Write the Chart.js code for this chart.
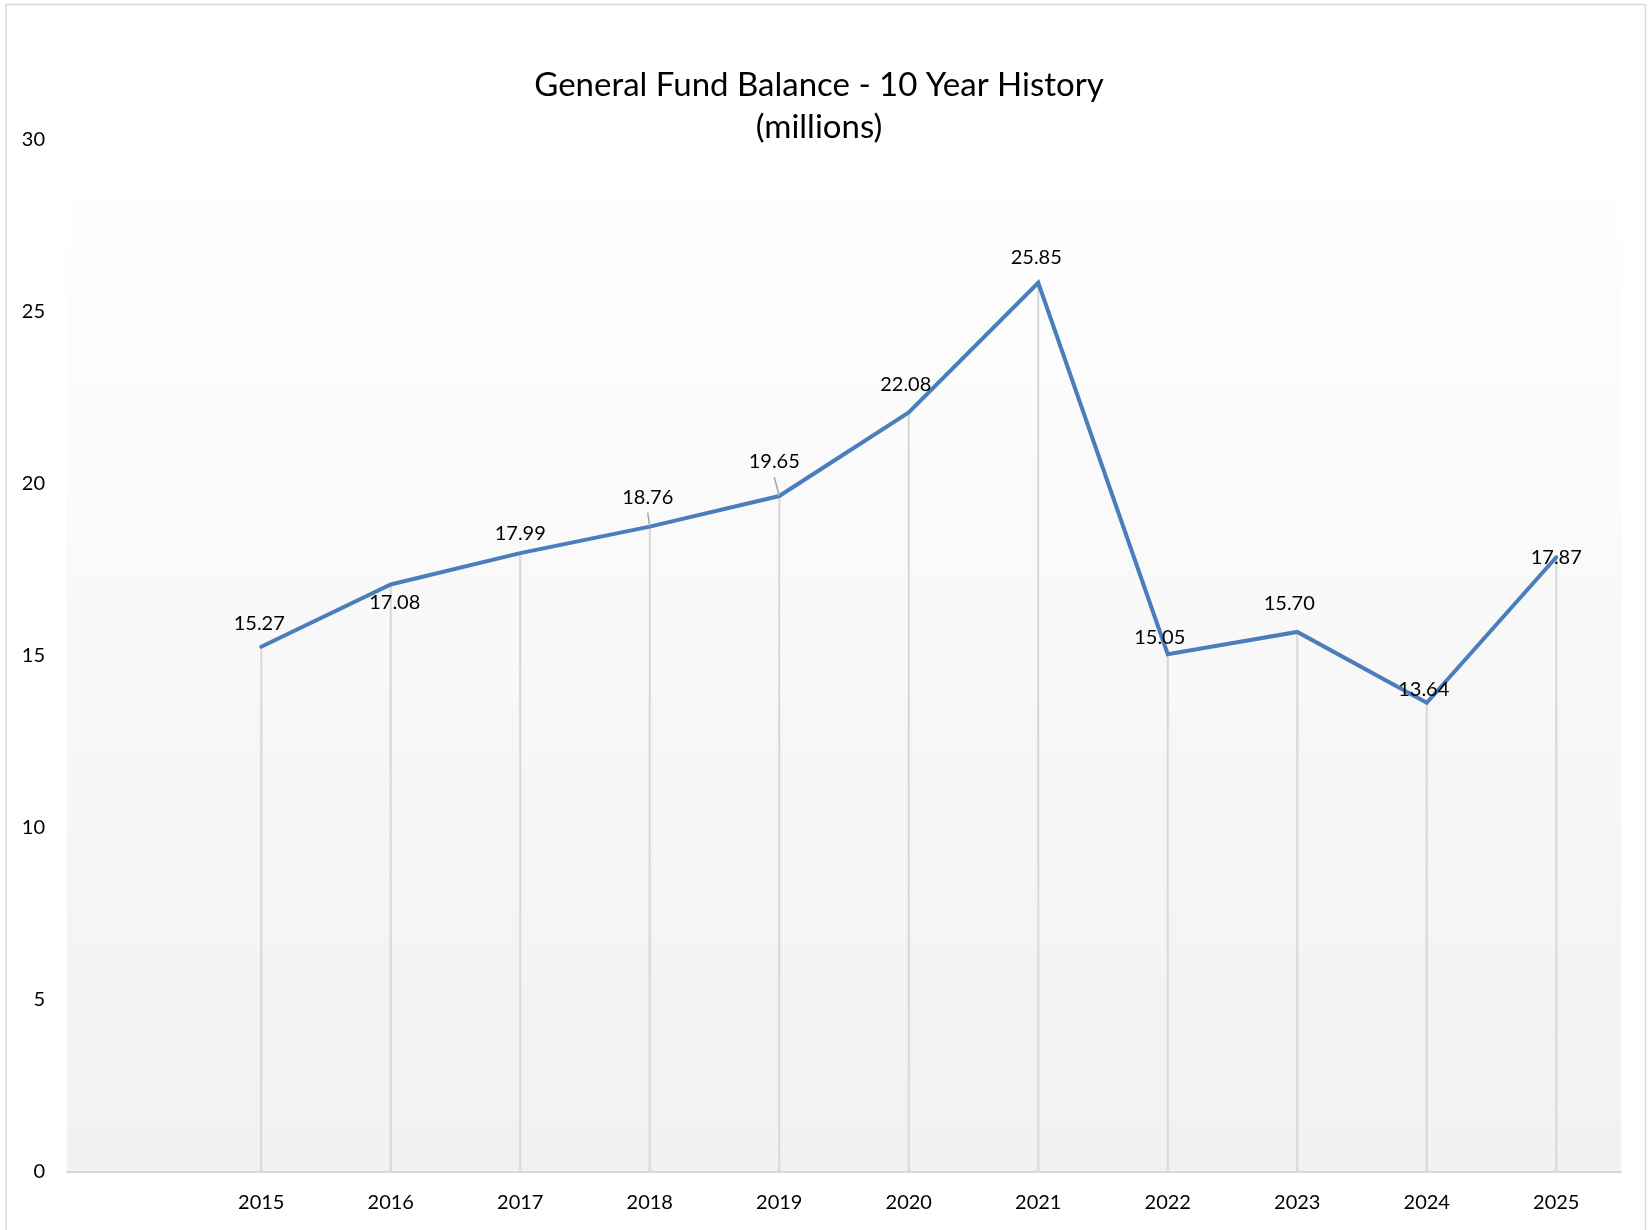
<!DOCTYPE html>
<html>
<head>
<meta charset="utf-8">
<script src="https://cdn.jsdelivr.net/npm/chart.js@4"></script>
<style>
  html, body { margin: 0; padding: 0; background: #ffffff; }
  #wrap { position: relative; width: 1648px; height: 1230px; }
</style>
</head>
<body>
<div id="wrap"><canvas id="c" width="1648" height="1230"></canvas></div>
<script>
// ---- data ----
const titleLines = ['General Fund Balance - 10 Year History', '(millions)'];
const years = ['', '2015', '2016', '2017', '2018', '2019', '2020', '2021', '2022', '2023', '2024', '2025'];
const balances = [null, 15.27, 17.08, 17.99, 18.76, 19.65, 22.08, 25.85, 15.05, 15.70, 13.64, 17.87];
const yTickValues = [0, 5, 10, 15, 20, 25, 30];

// ---- label styling (pixel offsets of each data label from its point) ----
const labelDx = [0, -2, 4, 0, -2, -5, -3, -2, -8, -8, -3, 0];
const labelDy = [0, -23, 18, -20, -29, -34, -28, -25, -17, -28, -13, 0];
const labelLeader = [false, false, false, false, true, true, false, false, false, false, false, false];

const FONT = 'Lato, "Open Sans", sans-serif';

const backgroundPlugin = {
  id: 'bgPlot',
  beforeDraw(chart) {
    const { ctx, chartArea } = chart;
    ctx.save();
    ctx.fillStyle = '#ffffff';
    ctx.fillRect(0, 0, chart.width, chart.height);
    const g = ctx.createLinearGradient(0, chartArea.top, 0, chartArea.bottom);
    g.addColorStop(0, '#ffffff');
    g.addColorStop(1, '#f1f1f1');
    ctx.fillStyle = g;
    ctx.fillRect(chartArea.left, chartArea.top, chartArea.right - chartArea.left, chartArea.bottom - chartArea.top);
    // outer frame
    ctx.strokeStyle = '#d9d9d9';
    ctx.lineWidth = 1.5;
    ctx.strokeRect(6, 4.5, chart.width - 8.5, chart.height + 20);
    ctx.restore();
  }
};

const titlePlugin = {
  id: 'titleText',
  afterDraw(chart) {
    const { ctx } = chart;
    ctx.save();
    ctx.fillStyle = '#000000';
    ctx.font = '33px ' + FONT;
    ctx.textAlign = 'center';
    ctx.textBaseline = 'middle';
    titleLines.forEach((t, i) => ctx.fillText(t, 819, 85 + i * 42));
    ctx.restore();
  }
};

const labelPlugin = {
  id: 'valueLabels',
  afterDatasetsDraw(chart) {
    const { ctx } = chart;
    const meta = chart.getDatasetMeta(1);
    ctx.save();
    ctx.font = '20px ' + FONT;
    ctx.fillStyle = '#000000';
    ctx.textAlign = 'center';
    ctx.textBaseline = 'middle';
    meta.data.forEach((pt, i) => {
      const v = balances[i];
      if (v === null || v === undefined) return;
      const lx = pt.x + labelDx[i];
      const ly = pt.y + labelDy[i];
      if (labelLeader[i]) {
        ctx.strokeStyle = '#a6a6a6';
        ctx.lineWidth = 1.5;
        ctx.beginPath();
        ctx.moveTo(lx, ly + 15);
        ctx.lineTo(pt.x, pt.y);
        ctx.stroke();
      }
      ctx.fillText(v.toFixed(2), lx, ly);
    });
    ctx.restore();
  }
};

new Chart(document.getElementById('c'), {
  data: {
    labels: years,
    datasets: [
      {
        type: 'bar',
        label: 'drop',
        data: balances,
        backgroundColor: '#d9d9d9',
        borderWidth: 0,
        barThickness: 1.5,
        order: 2
      },
      {
        type: 'line',
        label: 'General Fund Balance',
        data: balances,
        borderColor: '#4a7ebb',
        borderWidth: 4,
        pointRadius: 0,
        tension: 0,
        fill: false,
        spanGaps: false,
        borderCapStyle: 'round',
        borderJoinStyle: 'miter',
        order: 1
      }
    ]
  },
  options: {
    responsive: false,
    animation: false,
    layout: { padding: { left: 0, right: 27, top: 140, bottom: 0 } },
    plugins: {
      legend: { display: false },
      title: { display: false },
      tooltip: { enabled: false }
    },
    scales: {
      x: {
        type: 'category',
        offset: true,
        grid: { display: false, drawTicks: false },
        border: { display: true, color: '#d9d9d9', width: 2 },
        ticks: {
          color: '#000000',
          font: { family: FONT, size: 20 },
          padding: 19,
          maxRotation: 0,
          autoSkip: false
        },
        afterFit(scale) { scale.height = 58; }
      },
      y: {
        min: 0,
        max: 30,
        grid: { display: false, drawTicks: false },
        border: { display: false },
        afterBuildTicks(scale) { scale.ticks = yTickValues.map(v => ({ value: v })); },
        ticks: {
          color: '#000000',
          font: { family: FONT, size: 20 },
          padding: 22
        },
        afterFit(scale) { scale.width = 67; }
      }
    }
  },
  plugins: [backgroundPlugin, titlePlugin, labelPlugin]
});
</script>
</body>
</html>
